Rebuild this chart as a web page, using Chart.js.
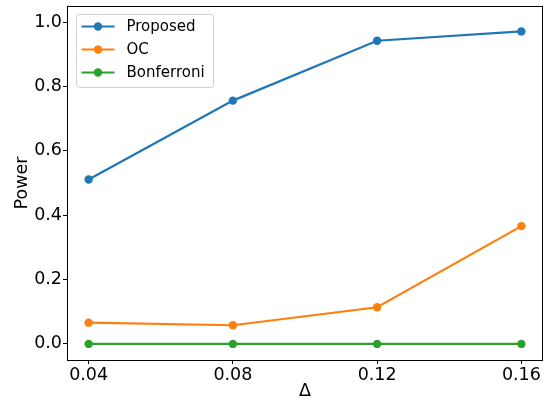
<!DOCTYPE html>
<html lang="en">
<head>
    <meta charset="UTF-8">
    <title>Power vs Delta</title>
    <script src="https://cdn.jsdelivr.net/npm/chart.js"></script>
    <style>
        html, body { margin: 0; padding: 0; background: #fff; }
        #wrap { width: 550px; height: 402px; }
    </style>
</head>
<body>
    <div id="wrap"><canvas id="powerChart" width="550" height="402"></canvas></div>

    <script>
        // values
        const deltas = [0.04, 0.08, 0.12, 0.16];
        const proposed = [0.511, 0.756, 0.942, 0.971];
        const oc = [0.066, 0.058, 0.114, 0.366];
        const bonferroni = [0.0, 0.0, 0.0, 0.0];
        const yTicks = [0.0, 0.2, 0.4, 0.6, 0.8, 1.0];

        const seriesNames = ['Proposed', 'OC', 'Bonferroni'];
        const seriesColors = ['#1f77b4', '#ff7f0e', '#2ca02c'];
        const seriesValues = [proposed, oc, bonferroni];

        const fontFamily = '"DejaVu Sans", sans-serif';

        function makeDataset(i) {
            return {
                label: seriesNames[i],
                data: deltas.map((d, j) => ({ x: d, y: seriesValues[i][j] })),
                borderColor: seriesColors[i],
                backgroundColor: seriesColors[i],
                borderWidth: 2.2,
                pointRadius: 4.2,
                pointHoverRadius: 4.2,
                pointBorderWidth: 0,
                tension: 0
            };
        }

        // four black spines like matplotlib
        const framePlugin = {
            id: 'frame',
            afterDraw(chart) {
                const { ctx, chartArea: a } = chart;
                ctx.save();
                ctx.strokeStyle = '#000';
                ctx.lineWidth = 1;
                ctx.strokeRect(a.left + 0.5, a.top + 0.5, a.right - a.left - 1, a.bottom - a.top);
                ctx.restore();
            }
        };

        // legend box inside the plot, upper left
        const legendPlugin = {
            id: 'innerLegend',
            afterDraw(chart) {
                const { ctx, chartArea: a } = chart;
                const bx = a.left + 9.5, by = a.top + 8.5, bw = 137, bh = 73;
                ctx.save();
                ctx.beginPath();
                ctx.roundRect(bx, by, bw, bh, 3);
                ctx.fillStyle = 'rgba(255,255,255,0.8)';
                ctx.fill();
                ctx.strokeStyle = '#d0d0d0';
                ctx.lineWidth = 1;
                ctx.stroke();

                ctx.font = '15px ' + fontFamily;
                ctx.textBaseline = 'middle';
                chart.data.datasets.forEach((ds, i) => {
                    const cy = by + 12 + i * 23;
                    ctx.strokeStyle = ds.borderColor;
                    ctx.lineWidth = 2.2;
                    ctx.beginPath();
                    ctx.moveTo(bx + 5, cy);
                    ctx.lineTo(bx + 38, cy);
                    ctx.stroke();
                    ctx.fillStyle = ds.borderColor;
                    ctx.beginPath();
                    ctx.arc(bx + 21.5, cy, 4.2, 0, Math.PI * 2);
                    ctx.fill();
                    ctx.fillStyle = '#000';
                    ctx.fillText(ds.label, bx + 50, cy + 1);
                });
                ctx.restore();
            }
        };

        const ctx = document.getElementById('powerChart').getContext('2d');
        const chart = new Chart(ctx, {
            type: 'line',
            data: { datasets: [0, 1, 2].map(makeDataset) },
            options: {
                responsive: false,
                animation: false,
                events: [],
                layout: { padding: { top: 6, right: 7, left: 0, bottom: 0 } },
                plugins: { legend: { display: false }, tooltip: { enabled: false } },
                scales: {
                    x: {
                        type: 'linear',
                        min: 0.034,
                        max: 0.166,
                        afterBuildTicks: axis => { axis.ticks = deltas.map(v => ({ value: v })); },
                        afterFit: axis => {
                            axis.height = 42;
                            axis.paddingLeft = 0;
                            axis.paddingRight = 0;
                        },
                        ticks: {
                            color: '#000',
                            font: { family: fontFamily, size: 17.5 },
                            padding: 1,
                            maxRotation: 0,
                            callback: v => v.toFixed(2)
                        },
                        grid: { drawOnChartArea: false, tickLength: 4, tickColor: '#000', color: '#000' },
                        border: { display: false },
                        title: {
                            display: true,
                            text: 'Δ',
                            color: '#000',
                            font: { family: fontFamily, size: 17.5, lineHeight: 1.2 },
                            padding: { top: 0, bottom: 0 }
                        }
                    },
                    y: {
                        min: -0.05,
                        max: 1.05,
                        afterBuildTicks: axis => { axis.ticks = yTicks.map(v => ({ value: v })); },
                        afterFit: axis => {
                            axis.width = 67;
                            axis.paddingTop = 0;
                            axis.paddingBottom = 0;
                        },
                        ticks: {
                            color: '#000',
                            font: { family: fontFamily, size: 17.5 },
                            padding: 1,
                            callback: v => v.toFixed(1)
                        },
                        grid: { drawOnChartArea: false, tickLength: 4, tickColor: '#000', color: '#000' },
                        border: { display: false },
                        title: {
                            display: true,
                            text: 'Power',
                            color: '#000',
                            font: { family: fontFamily, size: 17.5, lineHeight: 1.2 },
                            padding: { top: 12, bottom: 0 }
                        }
                    }
                }
            },
            plugins: [framePlugin, legendPlugin]
        });
    </script>
</body>
</html>
